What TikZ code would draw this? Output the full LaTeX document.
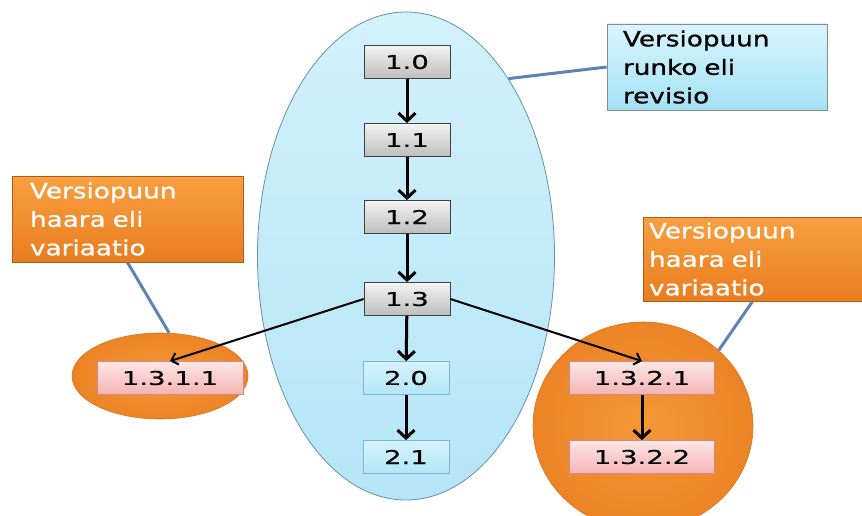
\documentclass[tikz,border=0pt]{standalone}
\usepackage{fontspec}
\usetikzlibrary{shapes.geometric,arrows.meta}
\newfontfamily\calfont[FakeStretch=1.25,FakeBold=0.8]{DejaVu Sans}
\newfontfamily\verfont[FakeStretch=1.45,FakeBold=0.6]{DejaVu Sans}
\definecolor{trunkfillA}{HTML}{D2F1FB}
\definecolor{trunkfillB}{HTML}{B4E5F6}
\definecolor{trunkline}{HTML}{6A8FA6}
\definecolor{orA}{HTML}{F8A040}
\definecolor{orB}{HTML}{E97D20}
\definecolor{orC}{HTML}{F59737}
\definecolor{orD}{HTML}{EC8426}
\definecolor{orline}{HTML}{D87420}
\definecolor{linkblue}{HTML}{5F84B4}
\definecolor{pinkA}{HTML}{FDE6E6}
\definecolor{pinkB}{HTML}{F5B3B3}
\definecolor{pinkline}{HTML}{CF8A8A}
\definecolor{lbA}{HTML}{D6F3FC}
\definecolor{lbB}{HTML}{B2E5F6}
\definecolor{lbline}{HTML}{7FB6C8}
\definecolor{grayA}{HTML}{F3F3F3}
\definecolor{grayB}{HTML}{BDBDBD}
\definecolor{revA}{HTML}{D9F5FD}
\definecolor{revB}{HTML}{A4E2F5}
\begin{document}
\begin{tikzpicture}[x=1pt,y=-1pt,
  verbox/.style={rectangle, minimum width=86pt, minimum height=33pt, inner sep=0pt,
    line width=0.8pt, font=\verfont\fontsize{19}{22}\selectfont},
  graybox/.style={verbox, draw=black!75, top color=grayA, bottom color=grayB},
  bluebox/.style={verbox, draw=lbline, top color=lbA, bottom color=lbB},
  pinkbox/.style={verbox, minimum width=146pt, draw=pinkline, top color=pinkA, bottom color=pinkB},
  callout/.style={rectangle, align=left, minimum height=86pt, line width=0.8pt,
    font=\calfont\fontsize{21}{28.5}\selectfont},
  orcallout/.style={callout, draw=orline!80!black, top color=orA, bottom color=orB, text=white},
  revcallout/.style={callout, draw=black!45, top color=revA, bottom color=revB, text=black},
  orblob/.style={ellipse, inner sep=0pt, draw=orline, line width=0.6pt, shading=radial,
    inner color=orC, outer color=orD},
  link/.style={draw=linkblue, line width=3pt},
  trunk/.style={-{Straight Barb[length=8pt,width=17pt]}, line width=3pt},
  branch/.style={-{Straight Barb[length=6pt,width=12pt]}, line width=2pt}]
\clip (0,0) rectangle (862,516);
\fill[white] (0,0) rectangle (862,516);

% containers
\node[ellipse, minimum width=297pt, minimum height=488pt, inner sep=0pt,
  draw=trunkline, line width=0.8pt, top color=trunkfillA, bottom color=trunkfillB] (big) at (406,256) {};
\node[orblob, minimum width=176pt, minimum height=86pt] (lefte) at (160,376) {};
\node[orblob, minimum width=220pt, minimum height=208pt] (righte) at (643,426) {};

% callouts
\node[revcallout, text width=188pt, inner xsep=16pt, minimum height=86pt] (rev) at (717,67)
  {Versiopuun\\runko eli\\revisio};
\node[orcallout, text width=195pt, inner xsep=18pt] (lcall) at (127.5,219)
  {Versiopuun\\haara eli\\variaatio};
\node[orcallout, text width=207pt, inner xsep=6pt, minimum height=84pt] (rcall) at (752.5,259)
  {Versiopuun\\haara eli\\variaatio};

\draw[link] (big.60) -- (rev.west);
\draw[link] (lcall.south) -- (lefte.78);
\draw[link] (rcall.south) -- (righte.45);

% version boxes
\node[graybox] (v10) at (407,62) {1.0};
\node[graybox] (v11) at (407,140) {1.1};
\node[graybox] (v12) at (407,217) {1.2};
\node[graybox] (v13) at (407,299) {1.3};
\node[bluebox] (v20) at (406,378) {2.0};
\node[bluebox] (v21) at (406,457) {2.1};
\node[pinkbox] (b1) at (170,378) {1.3.1.1};
\node[pinkbox, minimum width=145pt] (b21) at (642,378) {1.3.2.1};
\node[pinkbox, minimum width=145pt] (b22) at (642,457) {1.3.2.2};

\draw[trunk] (v10) -- (v11);
\draw[trunk] (v11) -- (v12);
\draw[trunk] (v12) -- (v13);
\draw[trunk] (v13) -- (v20);
\draw[trunk] (v20) -- (v21);
\draw[trunk] (b21) -- (b22);
\draw[branch] (v13.west) -- (b1.north);
\draw[branch] (v13.east) -- (b21.north);
\end{tikzpicture}
\end{document}
